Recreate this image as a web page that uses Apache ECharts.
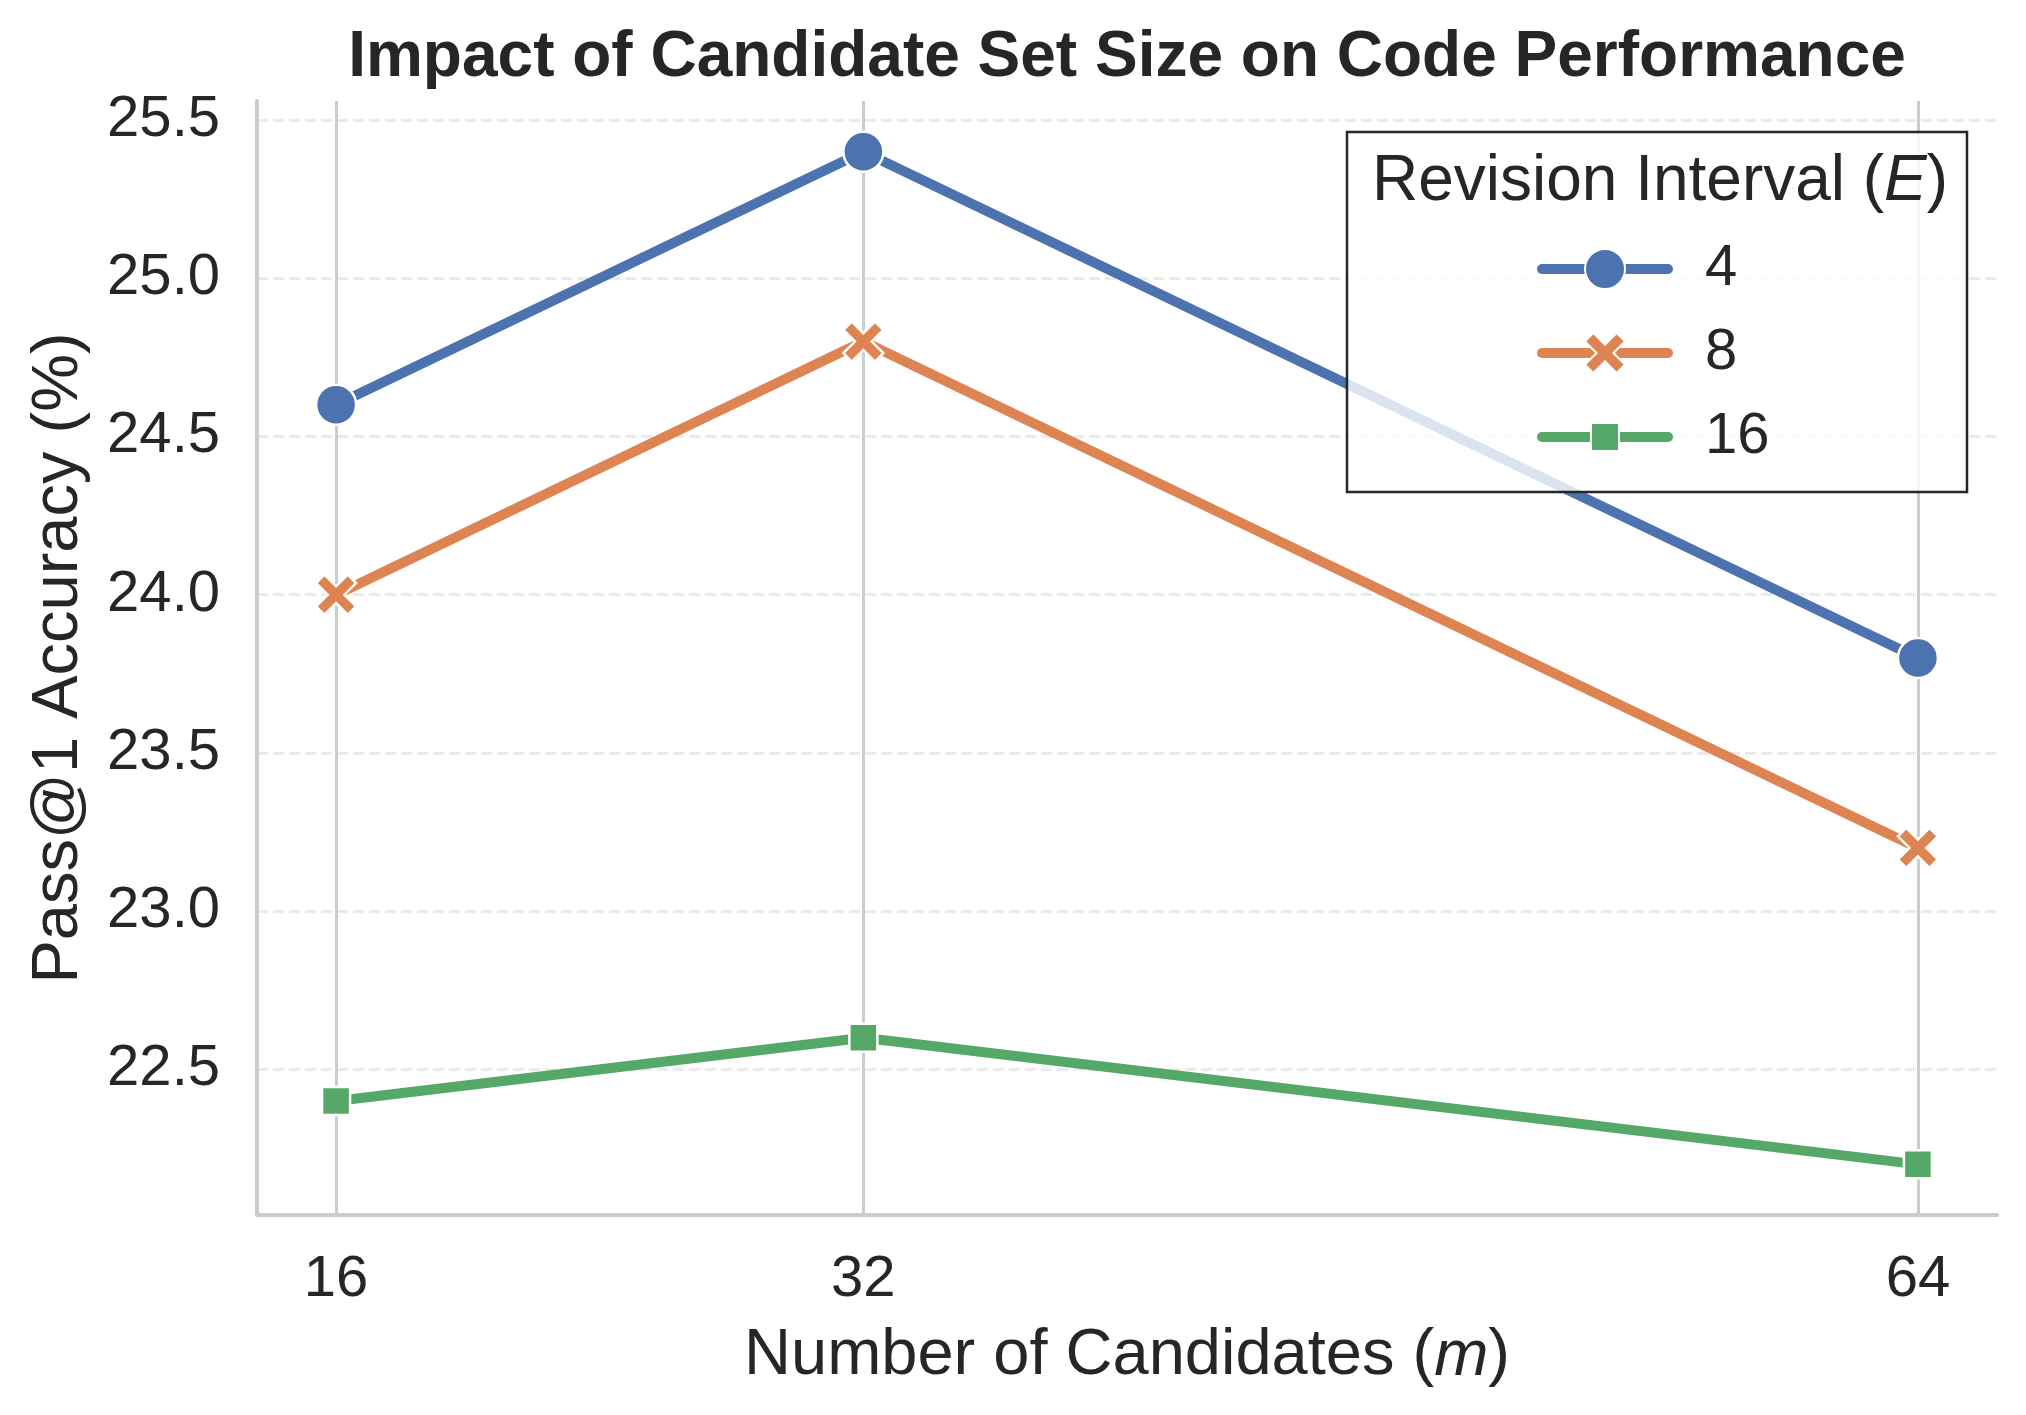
<!DOCTYPE html>
<html><head><meta charset="utf-8">
<script src="https://cdn.jsdelivr.net/npm/echarts@6/dist/echarts.min.js"></script>
<style>html,body{margin:0;padding:0;background:#fff}#c{width:2026px;height:1415px}</style>
</head><body><div id="c"></div>
<script>
const candidates = [16, 32, 64];
const seriesNames = ['4', '8', '16'];
const acc_E4 = [24.6, 25.4, 23.8];
const acc_E8 = [24.0, 24.8, 23.2];
const acc_E16 = [22.4, 22.6, 22.2];
const xTicks = [16, 32, 64];
const yTicks = [22.5, 23.0, 23.5, 24.0, 24.5, 25.0, 25.5];

const FONT = '"Liberation Sans", Arial, sans-serif';
const TXT = '#262626';
const colors = ['#4c72b0', '#dd8452', '#55a868'];
const xPath = 'path://M0,2.1 L2.1,0 L5,2.9 L7.9,0 L10,2.1 L7.1,5 L10,7.9 L7.9,10 L5,7.1 L2.1,10 L0,7.9 L2.9,5 Z';
const sqPath = 'path://M0,0 M40,40 M6,6 L34,6 L34,34 L6,34 Z';
const symbols = ['circle', xPath, sqPath];
const sizes = [40, 40, 40];
const dataSets = [acc_E4, acc_E8, acc_E16];

const chart = echarts.init(document.getElementById('c'), null, {renderer: 'canvas'});
const option = {
  backgroundColor: '#ffffff',
  animation: false,
  title: {
    text: 'Impact of Candidate Set Size on Code Performance',
    left: 1127, top: 26, textAlign: 'center', padding: 0,
    textStyle: {fontFamily: FONT, fontSize: 64, fontWeight: 'bold', color: TXT, lineHeight: 64}
  },
  grid: {left: 257, right: 29, top: 101, bottom: 200, containLabel: false},
  xAxis: {
    type: 'value', min: 13.6, max: 66.4,
    name: '{a|Number of Candidates (}{i|m}{a|)}',
    nameLocation: 'middle', nameGap: 109,
    nameTextStyle: {rich: {
      a: {fontFamily: FONT, fontSize: 65, color: TXT},
      i: {fontFamily: FONT, fontSize: 65, color: TXT, fontStyle: 'italic'}
    }},
    axisLine: {show: true, lineStyle: {color: '#cccccc', width: 4}},
    axisTick: {show: false, customValues: xTicks},
    axisLabel: {customValues: xTicks, fontFamily: FONT, fontSize: 58, color: TXT, margin: 36},
    splitLine: {show: true, lineStyle: {color: '#cccccc', width: 3, type: 'solid'}}
  },
  yAxis: {
    type: 'value', min: 22.04, max: 25.56,
    name: 'Pass@1 Accuracy (%)',
    nameLocation: 'middle', nameGap: 165,
    nameTextStyle: {fontFamily: FONT, fontSize: 65, color: TXT},
    axisLine: {show: true, lineStyle: {color: '#cccccc', width: 4}},
    axisTick: {show: false, customValues: yTicks},
    axisLabel: {customValues: yTicks, fontFamily: FONT, fontSize: 58, color: TXT, margin: 37,
      formatter: v => Number(v).toFixed(1)},
    splitLine: {show: true, lineStyle: {color: '#ebebeb', width: 3, type: [11, 5]}}
  },
  legend: {
    orient: 'vertical', left: 1537, top: 240, padding: 0,
    itemWidth: 126, itemHeight: 50, itemGap: 26, zlevel: 1, z: 10,
    selectedMode: false,
    data: seriesNames,
    lineStyle: {cap: 'round', width: 10},
    textStyle: {fontFamily: FONT, fontSize: 58, color: TXT, lineHeight: 50, padding: [0, 0, 0, 32]}
  },
  graphic: [
    {type: 'rect', zlevel: 1, z: 3, shape: {x: 1347, y: 132, width: 620, height: 360},
      style: {fill: 'rgba(255,255,255,0.8)', stroke: '#262626', lineWidth: 2.5}},
    {type: 'text', zlevel: 1, z: 11, x: 1660, y: 182,
      style: {text: '{a|Revision Interval (}{i|E}{a|)}', align: 'center', verticalAlign: 'middle',
        rich: {
          a: {fontFamily: FONT, fontSize: 64, fill: TXT},
          i: {fontFamily: FONT, fontSize: 64, fill: TXT, fontStyle: 'italic'}
        }}}
  ],
  series: seriesNames.map((n, k) => ({
    name: n, type: 'line',
    data: candidates.map((c, i) => [c, dataSets[k][i]]),
    symbol: symbols[k], symbolSize: sizes[k],
    lineStyle: {color: colors[k], width: 10, cap: 'round', join: 'round'},
    itemStyle: {color: colors[k], borderColor: '#ffffff', borderWidth: 2.5},
    showAllSymbol: true
  }))
};
chart.setOption(option);
</script></body></html>
